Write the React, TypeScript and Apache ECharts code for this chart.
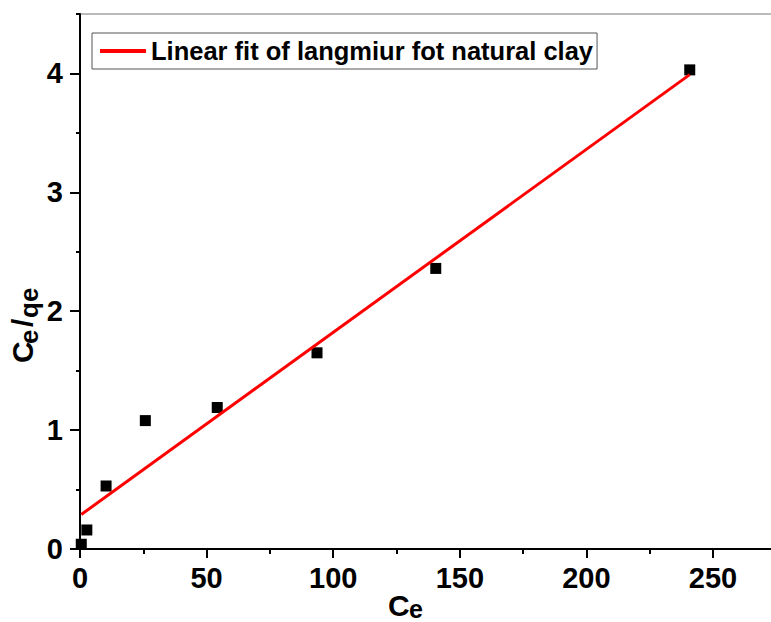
import React, { useEffect, useRef } from "react";
import * as echarts from "echarts";

// Data
const ceValues = [0.5, 2.7, 10.3, 25.8, 54.2, 93.6, 140.5, 240.8];
const ceQeValues = [0.04, 0.16, 0.53, 1.08, 1.19, 1.65, 2.36, 4.03];
const fitX = [0.5, 240.8];
const fitY = [0.29, 3.99];
const xTickValues = [0, 50, 100, 150, 200, 250];
const yTickValues = [0, 1, 2, 3, 4];
const legendLabel = "Linear fit of langmiur fot natural clay";

const FONT = "'Liberation Sans', Arial, Helvetica, sans-serif";

export default function App() {
  const ref = useRef<HTMLDivElement>(null);

  useEffect(() => {
    if (!ref.current) return;
    const chart = echarts.init(ref.current, null, { renderer: "svg" });

    const scatterData = ceValues.map((x, i) => [x, ceQeValues[i]]);
    const fitData = fitX.map((x, i) => [x, fitY[i]]);

    const boldText = (size: number) => ({
      fontFamily: FONT,
      fontWeight: "bold" as const,
      fontSize: size,
      color: "#000",
    });

    const txt = (x: number, y: number, text: string, size: number) => ({
      type: "text",
      x,
      y,
      style: { text, font: `bold ${size}px ${FONT}`, fill: "#000", verticalAlign: "top" },
    });

    const option: any = {
      animation: false,
      backgroundColor: "#fff",
      grid: {
        left: 80,
        top: 14,
        width: 709,
        height: 535,
        show: true,
        borderColor: "#777",
        borderWidth: 1,
        backgroundColor: "transparent",
      },
      legend: {
        data: [{ name: legendLabel, icon: "rect" }],
        left: 92,
        top: 33,
        itemWidth: 46,
        itemHeight: 4,
        borderColor: "#555",
        borderWidth: 1,
        padding: [5, 4, 5, 8],
        itemStyle: { color: "#ff0000" },
        textStyle: boldText(25.5),
      },
      xAxis: [
        {
          type: "value",
          min: 0,
          max: 280,
          interval: 25,
          position: "bottom",
          axisLine: { show: true, onZero: false, lineStyle: { color: "#000", width: 2 } },
          axisTick: { show: true, length: 5, lineStyle: { color: "#000", width: 2 } },
          axisLabel: { show: false },
          splitLine: { show: false },
        },
        {
          type: "value",
          min: 0,
          max: 280,
          interval: 50,
          position: "bottom",
          axisLine: { show: false, onZero: false },
          axisTick: {
            show: true,
            length: 9,
            customValues: xTickValues,
            lineStyle: { color: "#000", width: 2 },
          },
          axisLabel: {
            show: true,
            customValues: xTickValues,
            margin: 14,
            ...boldText(29),
          },
          splitLine: { show: false },
        },
      ],
      yAxis: [
        {
          type: "value",
          min: 0,
          max: 4.5,
          interval: 0.5,
          position: "left",
          axisLine: { show: true, onZero: false, lineStyle: { color: "#000", width: 2 } },
          axisTick: { show: true, length: 4, lineStyle: { color: "#000", width: 2 } },
          axisLabel: { show: false },
          splitLine: { show: false },
        },
        {
          type: "value",
          min: 0,
          max: 4.5,
          interval: 0.5,
          position: "left",
          axisLine: { show: false, onZero: false },
          axisTick: {
            show: true,
            length: 10,
            customValues: yTickValues,
            lineStyle: { color: "#000", width: 2 },
          },
          axisLabel: {
            show: true,
            customValues: yTickValues,
            margin: 17,
            ...boldText(29),
          },
          splitLine: { show: false },
        },
      ],
      series: [
        {
          type: "scatter",
          name: "data",
          xAxisIndex: 0,
          yAxisIndex: 0,
          data: scatterData,
          symbol: "rect",
          symbolSize: 11,
          itemStyle: { color: "#000", opacity: 1 },
          z: 3,
        },
        {
          type: "line",
          name: legendLabel,
          xAxisIndex: 0,
          yAxisIndex: 0,
          data: fitData,
          symbol: "none",
          lineStyle: { color: "#ff0000", width: 3 },
          itemStyle: { color: "#ff0000" },
          z: 4,
        },
      ],
      graphic: [
        txt(388, 590, "C", 30),
        txt(409, 596, "e", 25),
        {
          type: "group",
          x: 7,
          y: 363,
          rotation: Math.PI / 2,
          children: [
            txt(0, 0, "C", 30),
            txt(19, 9, "e", 26),
            txt(36, 0, "/", 30),
            txt(45, 9, "qe", 26),
          ],
        },
      ],
    };

    chart.setOption(option);
    return () => chart.dispose();
  }, []);

  return (
    <div
      ref={ref}
      style={{ position: "fixed", left: 0, top: 0, width: 800, height: 622, background: "#fff" }}
    />
  );
}
